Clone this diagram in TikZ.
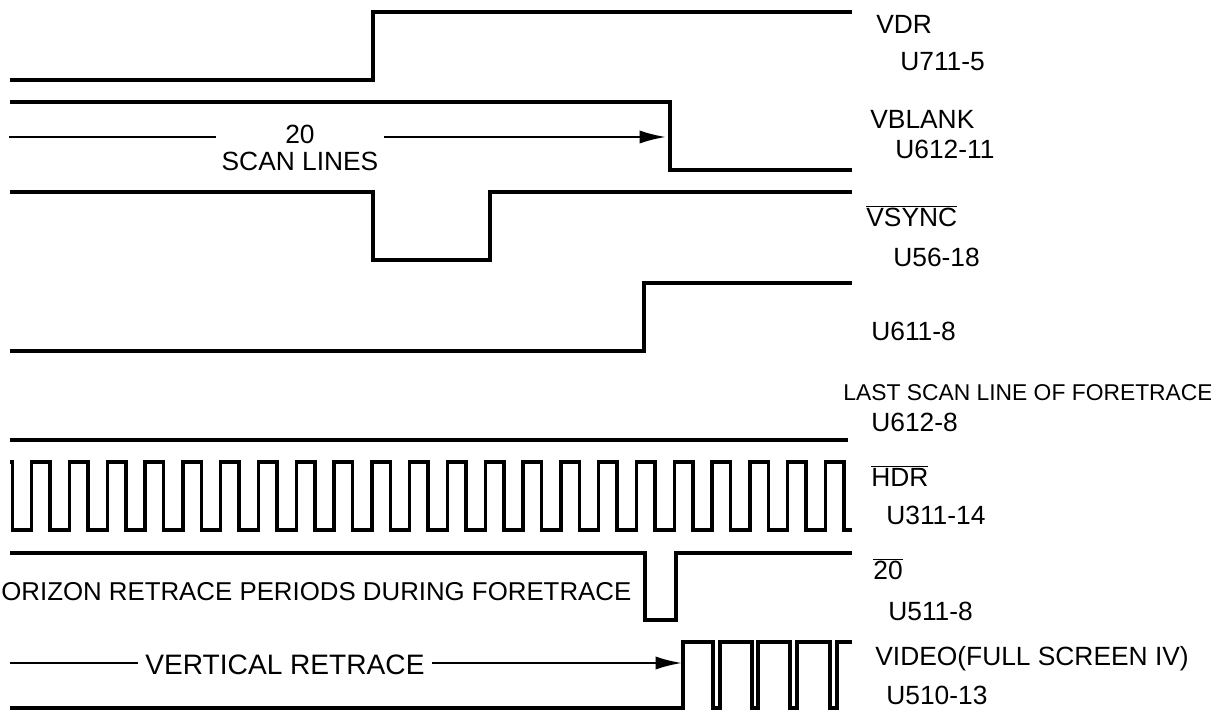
\documentclass[tikz,border=0pt]{standalone}
\usepackage{fontspec}
\setmainfont{Liberation Sans}
\usepackage{tikz}
\usetikzlibrary{arrows.meta}
\newcommand{\barred}[1]{$\overline{\mbox{#1}}$}

\begin{document}
\begin{tikzpicture}[x=0.02cm,y=-0.02cm,
    wave/.style={line width=2pt},
    span/.style={line width=1.3pt},
    lbl/.style={anchor=west,inner sep=0pt,font=\fontsize{15}{15}\selectfont}]
      \useasboundingbox (0,0) rectangle (1211,712);
      \draw [wave] (10,80) -- (373,80) -- (373,12) -- (852,12);
      \node [lbl] (vdr) at (876,24) {VDR};
      \node [lbl] (vdrpin) at (900,62) {U711-5};
      \draw [wave] (10,102) -- (670,102) -- (670,170) -- (852,170);
      \node [lbl] (vblank) at (870,119) {VBLANK};
      \node [lbl] (vblankpin) at (895,149) {U612-11};
      \coordinate (scanfrom) at (9,137);
      \coordinate (scanto) at (666,137);
      \node [inner xsep=3pt,align=center,font=\fontsize{15}{15}\selectfont] (scan) at (300,148) {20\\SCAN LINES};
      \draw [span] (scanfrom) -- (scanfrom -| scan.west);
      \draw [span,-{Latex[length=15pt,width=7.5pt]}] (scan.east |- scanfrom) -- (scanto);
      \draw [wave] (10,192) -- (373,192) -- (373,260) -- (490,260) -- (490,192) -- (852,192);
      \node [lbl] (vsync) at (866,216) {\barred{VSYNC}};
      \node [lbl] (vsyncpin) at (893,257) {U56-18};
      \draw [wave] (10,351) -- (644,351) -- (644,283) -- (852,283);
      \node [lbl] (lastpin) at (871,331) {U611-8};
      \node [lbl,font=\fontsize{13}{13}\selectfont] (lastline) at (843,393) {LAST SCAN LINE OF FORETRACE};
      \draw [wave] (10,440) -- (848,440);
      \node [lbl] (lastlinepin) at (871,422) {U612-8};
      \draw [wave] (10,462) -- (12.4,462) -- (12.4,530)
        \foreach \k in {0,...,21} {
          -- ({31.7+37.8*\k},530) -- ({31.7+37.8*\k},462)
          -- ({50.2+37.8*\k},462) -- ({50.2+37.8*\k},530) }
        -- (852,530);
      \node [lbl] (hdr) at (871,476) {\barred{HDR}};
      \node [lbl] (hdrpin) at (886,515) {U311-14};
      \draw [wave] (10,553) -- (645,553) -- (645,620) -- (676,620) -- (676,553) -- (852,553);
      \node [lbl] (count) at (873,569) {\barred{20}};
      \node [lbl] (countpin) at (888,611) {U511-8};
      \node [lbl,font=\fontsize{14.7}{15}\selectfont] (horiz) at (1,592) {ORIZON RETRACE PERIODS DURING FORETRACE};
      \draw [wave] (10,708) -- (683,708) -- (683,642) -- (713,642) -- (713,708)
        -- (720,708) -- (720,642) -- (752,642) -- (752,708)
        -- (758,708) -- (758,642) -- (790,642) -- (790,708)
        -- (797,708) -- (797,642) -- (830,642) -- (830,708)
        -- (837,708) -- (837,642) -- (852,642);
      \coordinate (retrfrom) at (10,663);
      \coordinate (retrto) at (682,663);
      \node [inner xsep=4pt,font=\fontsize{16}{16}\selectfont] (retrace) at (285,665) {VERTICAL RETRACE};
      \draw [span] (retrfrom) -- (retrfrom -| retrace.west);
      \draw [span,-{Latex[length=15pt,width=7.5pt]}] (retrace.east |- retrfrom) -- (retrto);
      \node [lbl] (video) at (875,659) {VIDEO(FULL SCREEN IV)};
      \node [lbl] (videopin) at (886,695) {U510-13};
    \end{tikzpicture}
\end{document}
